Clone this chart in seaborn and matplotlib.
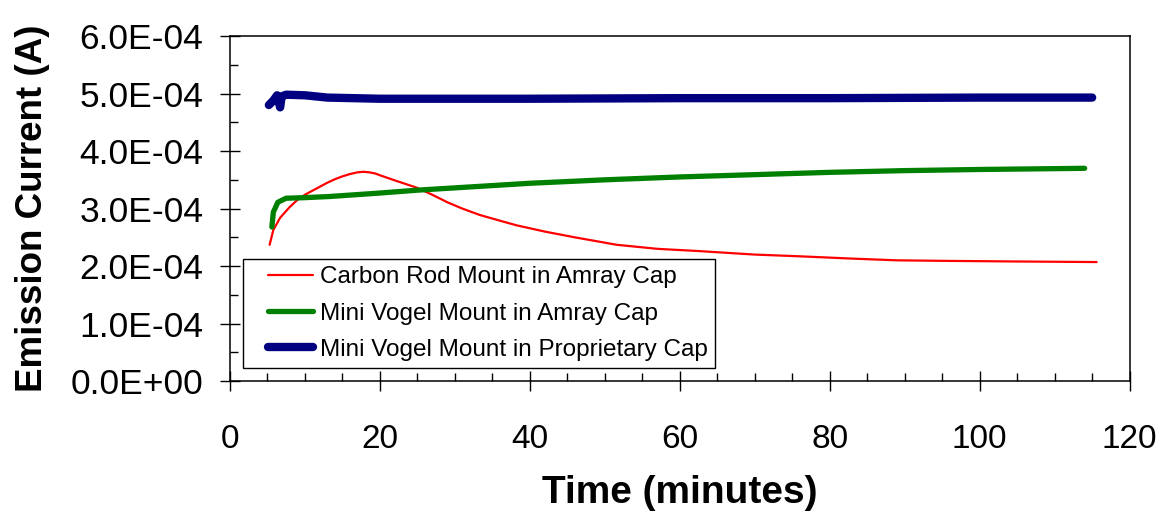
import numpy as np
import pandas as pd
import matplotlib
matplotlib.use('Agg')
import matplotlib.pyplot as plt
import seaborn as sns
from matplotlib.ticker import MultipleLocator, FuncFormatter
from matplotlib.lines import Line2D
from matplotlib.legend_handler import HandlerLine2D

# time (minutes) and emission current (units of 1e-4 A)
carbon_t = [5.3, 5.8, 6.7, 8.0, 9.0, 10.0, 11.0, 12.0, 13.0, 14.0, 15.0, 16.0,
            17.0, 17.8, 18.6, 19.4, 20.0, 22.0, 25.0, 27.0, 29.0, 31.0, 33.3,
            36.0, 38.2, 42.0, 46.0, 51.6, 57.0, 62.7, 70.0, 76.0, 83.0, 89.0,
            96.0, 105.0, 115.6]
carbon_i = [2.37, 2.63, 2.84, 3.03, 3.15, 3.24, 3.31, 3.38, 3.45, 3.51, 3.56, 3.60,
            3.63, 3.64, 3.63, 3.61, 3.58, 3.49, 3.36, 3.24, 3.11, 3.00, 2.89,
            2.79, 2.71, 2.60, 2.50, 2.37, 2.30, 2.26, 2.20, 2.17, 2.13, 2.10,
            2.09, 2.08, 2.07]

amray_t = [5.6, 5.8, 6.4, 7.5, 10.0, 13.3, 20.0, 25.0, 30.0, 40.0, 50.0, 60.0,
           70.0, 80.0, 90.0, 100.0, 114.0]
amray_i = [2.68, 2.94, 3.11, 3.18, 3.19, 3.21, 3.27, 3.32, 3.36, 3.44, 3.50, 3.55,
           3.59, 3.63, 3.66, 3.68, 3.70]

prop_t = [5.2, 5.8, 6.3, 6.7, 6.9, 7.5, 10.0, 13.0, 20.0, 30.0, 40.0, 60.0,
          80.0, 100.0, 115.0]
prop_i = [4.80, 4.88, 4.97, 4.76, 4.95, 4.98, 4.97, 4.93, 4.91, 4.91, 4.91, 4.92,
          4.92, 4.93, 4.93]

labels = ['Carbon Rod Mount in Amray Cap',
          'Mini Vogel Mount in Amray Cap',
          'Mini Vogel Mount in Proprietary Cap']

sns.set_style('white')
plt.rcParams['font.family'] = ['Liberation Sans', 'DejaVu Sans']
plt.rcParams['text.color'] = 'black'
plt.rcParams['axes.labelcolor'] = 'black'
plt.rcParams['xtick.color'] = 'black'
plt.rcParams['ytick.color'] = 'black'

fig = plt.figure(figsize=(11.61, 5.15), dpi=100)
ax = fig.add_axes([0.198, 0.260, 0.775, 0.670])

series = [(carbon_t, carbon_i, '#FF0000', 1.6),
          (amray_t, amray_i, '#008000', 3.8),
          (prop_t, prop_i, '#000080', 6.0)]
for (t, i, c, lw), lab in zip(series, labels):
    df = pd.DataFrame({'t': t, 'i': np.array(i) * 1e-4})
    sns.lineplot(data=df, x='t', y='i', ax=ax, color=c, linewidth=lw,
                 label=lab, sort=False, estimator=None,
                 solid_capstyle='round', solid_joinstyle='round')

ax.set_xlim(0, 120)
ax.set_ylim(0, 6e-4)
ax.xaxis.set_major_locator(MultipleLocator(20))
ax.xaxis.set_minor_locator(MultipleLocator(5))
ax.yaxis.set_major_locator(MultipleLocator(1e-4))
ax.yaxis.set_minor_locator(MultipleLocator(0.5e-4))
ax.yaxis.set_major_formatter(FuncFormatter(lambda v, p: f'{v:.1E}'))

for s in ax.spines.values():
    s.set_color('black')
    s.set_linewidth(1.1)

ax.tick_params(which='both', bottom=True, left=True, top=False, right=False)
ax.tick_params(which='major', direction='inout', length=14, width=1,
               color='black')
ax.tick_params(which='minor', direction='in', length=6, width=1, color='black')
ax.tick_params(axis='x', which='major', pad=24, labelsize=24)
ax.tick_params(axis='y', which='major', pad=12, labelsize=25.5)

ax.set_xlabel('Time (minutes)', fontsize=28, fontweight='bold', labelpad=14)
ax.set_ylabel('Emission Current (A)', fontsize=26.5, fontweight='bold', labelpad=15)

leg = ax.legend(loc='lower left', bbox_to_anchor=(0.0144, 0.038),
                borderaxespad=0, fontsize=17.5, frameon=True, fancybox=False,
                framealpha=1, edgecolor='black', handlelength=2.58,
                handletextpad=0.3, labelspacing=0.58, borderpad=0.3,
                handler_map={Line2D: HandlerLine2D(xpad=0.73)})
leg.get_frame().set_linewidth(1.0)

fig.savefig('out.png', dpi=100)
